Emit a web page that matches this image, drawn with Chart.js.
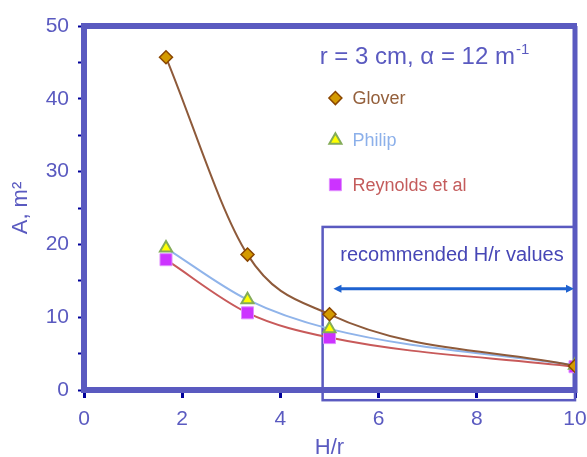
<!DOCTYPE html>
<html>
<head>
<meta charset="utf-8">
<script src="https://cdn.jsdelivr.net/npm/chart.js@4"></script>
<style>
html,body{margin:0;padding:0;background:#fff;}
#wrap{width:587px;height:457px;}
</style>
</head>
<body>
<div id="wrap"><canvas id="chart" width="587" height="457"></canvas></div>
<script>
// ---- data ----
const hr = [1.67, 3.33, 5, 10];
const glover = [45.7, 18.6, 10.4, 3.3];
const philip = [19.5, 12.4, 8.4, 3.4];
const reynolds = [17.9, 10.6, 7.2, 3.2];
const seriesNames = ["Glover", "Philip", "Reynolds et al"];
const xTicks = [0, 2, 4, 6, 8, 10];
const yTicks = [0, 10, 20, 30, 40, 50];
const recommended = [4.86, 10];   // H/r range of the box

const AXIS = "#5a5ac0";
const TICK = "#00009a";
const FONT = "'Liberation Sans', Arial, sans-serif";

function pts(ys){ return hr.map((x, i) => ({x: x, y: ys[i]})); }

// ================= ANNOTATIONS =================
const extras = {
    id: "extras",
    beforeDatasetsDraw(chart){
        const {ctx, chartArea: a, scales: {x, y}} = chart;
        ctx.save();

        // top + right frame
        ctx.strokeStyle = AXIS;
        ctx.lineWidth = 6;
        ctx.beginPath(); ctx.moveTo(a.left - 3, a.top); ctx.lineTo(a.right + 2, a.top); ctx.stroke();
        ctx.lineWidth = 5;
        ctx.beginPath(); ctx.moveTo(a.right, a.top); ctx.lineTo(a.right, a.bottom + 3); ctx.stroke();

        // recommended box
        const bx = x.getPixelForValue(recommended[0]);
        const bt = y.getPixelForValue(22.4);
        const bb = y.getPixelForValue(-1.4);
        ctx.lineWidth = 2.5;
        ctx.strokeRect(bx, bt, x.getPixelForValue(recommended[1]) - bx, bb - bt);

        ctx.fillStyle = "#4646b6";
        ctx.font = "20px " + FONT;
        ctx.textBaseline = "middle";
        ctx.fillText("recommended H/r values", x.getPixelForValue(5.22), y.getPixelForValue(18.5));

        // double arrow
        const ay = y.getPixelForValue(13.9);
        const x1 = x.getPixelForValue(5.08), x2 = x.getPixelForValue(10) - 1;
        ctx.strokeStyle = "#1e62d0";
        ctx.fillStyle = "#1e62d0";
        ctx.lineWidth = 3;
        ctx.beginPath(); ctx.moveTo(x1 + 4, ay); ctx.lineTo(x2 - 4, ay); ctx.stroke();
        ctx.beginPath(); ctx.moveTo(x1, ay); ctx.lineTo(x1 + 8, ay - 4); ctx.lineTo(x1 + 8, ay + 4); ctx.fill();
        ctx.beginPath(); ctx.moveTo(x2, ay); ctx.lineTo(x2 - 8, ay - 4); ctx.lineTo(x2 - 8, ay + 4); ctx.fill();

        // title
        ctx.fillStyle = AXIS;
        ctx.textBaseline = "alphabetic";
        ctx.font = "24px " + FONT;
        const tx = x.getPixelForValue(4.8), ty = y.getPixelForValue(44.8);
        const t = "r = 3 cm, \u03b1 = 12 m";
        ctx.fillText(t, tx, ty);
        const w = ctx.measureText(t).width;
        ctx.font = "15px " + FONT;
        ctx.fillText("-1", tx + w + 1, ty - 10);

        // legend
        const lx = x.getPixelForValue(5.12);
        const ly = [40.1, 34.3, 28.2];
        ctx.font = "18px " + FONT;
        ctx.textBaseline = "middle";
        chart.data.datasets.forEach((ds, i) => {
            const py = y.getPixelForValue(ly[i]);
            ctx.fillStyle = ds.pointBackgroundColor;
            ctx.strokeStyle = ds.pointBorderColor;
            ctx.lineWidth = ds.pointBorderWidth;
            Chart.helpers.drawPoint(ctx, {
                pointStyle: ds.pointStyle, radius: ds.pointRadius,
                rotation: 0, borderWidth: ds.pointBorderWidth
            }, lx, py);
            ctx.fillStyle = ds.labelColor;
            ctx.fillText(ds.label, lx + 17, py + 1);
        });

        ctx.restore();
    }
};

// ================= CHART =================
const ctx = document.getElementById("chart").getContext("2d");

// first dataset is drawn on top
new Chart(ctx, {
    type: "line",
    data: {
        datasets: [{
            label: seriesNames[0],
            data: pts(glover),
            borderColor: "#8e5a3a",
            borderWidth: 2,
            pointStyle: "rectRot",
            pointRadius: 6.5,
            pointBackgroundColor: "#d49a00",
            pointBorderColor: "#8a4600",
            pointBorderWidth: 1.5,
            labelColor: "#94603c",
            cubicInterpolationMode: "monotone"
        }, {
            label: seriesNames[1],
            data: pts(philip),
            borderColor: "#90b4ea",
            borderWidth: 2,
            pointStyle: "triangle",
            pointRadius: 7,
            pointBackgroundColor: "#ffff00",
            pointBorderColor: "#84ac58",
            pointBorderWidth: 2,
            labelColor: "#8cb0ea",
            cubicInterpolationMode: "monotone"
        }, {
            label: seriesNames[2],
            data: pts(reynolds),
            borderColor: "#c85a5a",
            borderWidth: 2,
            pointStyle: "rect",
            pointRadius: 8.5,
            pointBackgroundColor: "#cc33ff",
            pointBorderColor: "#e08cff",
            pointBorderWidth: 1,
            labelColor: "#c45c5c",
            cubicInterpolationMode: "monotone"
        }]
    },
    options: {
        responsive: false,
        animation: false,
        layout: { padding: { top: 26, right: 0, left: 0, bottom: 0 } },
        plugins: { legend: { display: false }, tooltip: { enabled: false } },
        scales: {
            x: {
                type: "linear", min: 0, max: 10,
                afterBuildTicks: s => { s.ticks = xTicks.map(v => ({value: v})); },
                afterFit: s => { s.height = 67; s.paddingRight = 12; },
                ticks: { color: AXIS, padding: 9, font: { family: FONT, size: 21 } },
                grid: { drawOnChartArea: false, color: TICK, tickLength: 8, tickWidth: 3 },
                border: { color: AXIS, width: 6 },
                title: { display: true, text: "H/r", color: AXIS, padding: { top: 0, bottom: -4 },
                         font: { family: FONT, size: 22 } }
            },
            y: {
                min: 0, max: 50,
                afterBuildTicks: s => {
                    const t = [];
                    for (let v = 0; v <= 50; v += 5) t.push({value: v});
                    s.ticks = t;
                },
                afterFit: s => { s.width = 84; },
                ticks: { color: AXIS, padding: 9, font: { family: FONT, size: 21 },
                         callback: v => yTicks.includes(v) ? v : "" },
                grid: { drawOnChartArea: false, color: TICK, tickLength: 6, tickWidth: 2 },
                border: { color: AXIS, width: 6 },
                title: { display: true, text: "A, m\u00b2", color: AXIS, padding: 8,
                         font: { family: FONT, size: 22 } }
            }
        }
    },
    plugins: [extras]
});
</script>
</body>
</html>
